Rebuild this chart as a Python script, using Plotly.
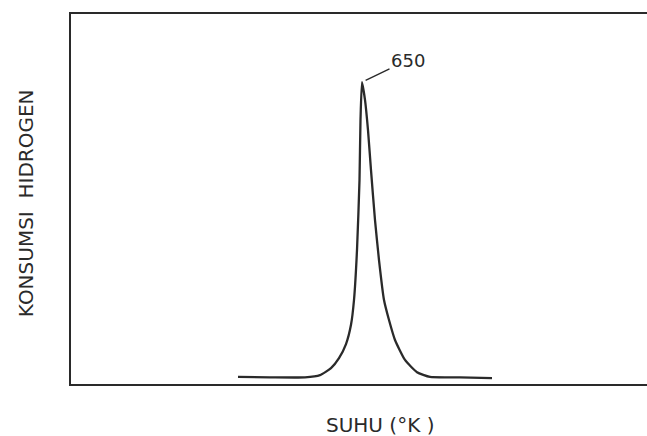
import plotly.graph_objects as go

# Temperature (K) and hydrogen consumption (arbitrary units)
suhu_K = [402, 466, 536, 566, 588, 604, 618, 628, 634, 640, 645, 647, 650, 656, 662, 668, 676, 684, 694, 704, 716, 736, 760, 786, 846, 910]
konsumsi_H = [1.9, 1.8, 1.8, 2.4, 4.3, 7.0, 10.8, 16.0, 22.7, 36.2, 55.1, 71.4, 81.6, 76.8, 68.6, 57.8, 44.3, 33.5, 22.7, 17.3, 11.9, 6.5, 3.2, 1.9, 1.8, 1.6]
peak_T = 650
peak_H = 81.6
peak_label = "650"
x_title = "SUHU (°K )"
y_title = "KONSUMSI  HIDROGEN"

ink = "#2a2a2a"
font_family = "DejaVu Sans, Verdana, sans-serif"

fig = go.Figure()
fig.add_trace(go.Scatter(
    x=suhu_K, y=konsumsi_H, mode="lines",
    line=dict(color=ink, width=2.3, shape="spline", smoothing=0.5),
    hoverinfo="skip", showlegend=False,
))

fig.add_annotation(
    x=peak_T, y=peak_H, xref="x", yref="y",
    text=peak_label, showarrow=True, arrowhead=0, arrowwidth=1.4,
    arrowcolor=ink, ax=46, ay=-22, standoff=4,
    font=dict(family=font_family, size=18, color=ink),
)
fig.add_annotation(
    x=0.536, y=-0.111, xref="paper", yref="paper",
    text=x_title, showarrow=False,
    font=dict(family=font_family, size=20, color=ink),
    xanchor="center", yanchor="middle",
)
fig.add_annotation(
    x=-0.078, y=0.489, xref="paper", yref="paper",
    text=y_title, showarrow=False, textangle=-90,
    font=dict(family=font_family, size=20, color=ink),
    xanchor="center", yanchor="middle",
)

fig.update_layout(
    width=647, height=436,
    margin=dict(l=71, r=0, t=14, b=52),
    paper_bgcolor="white", plot_bgcolor="white",
    xaxis=dict(range=[68, 1220], showgrid=False, zeroline=False,
               showticklabels=False, ticks="", showline=True,
               linecolor=ink, linewidth=2.2, mirror=True),
    yaxis=dict(range=[0, 100], showgrid=False, zeroline=False,
               showticklabels=False, ticks="", showline=True,
               linecolor=ink, linewidth=2.2),
)

fig.write_html("out.html")
